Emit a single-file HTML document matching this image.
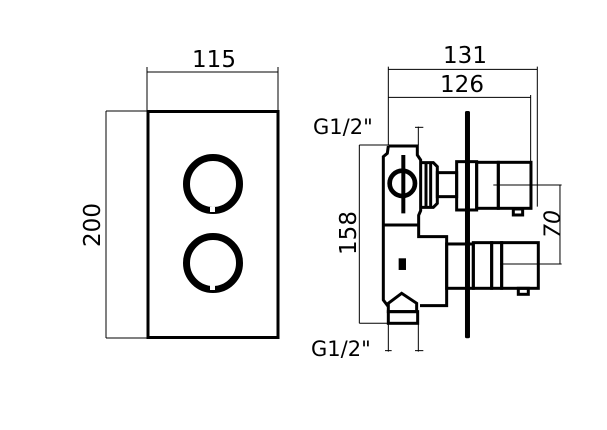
<!DOCTYPE html>
<html><head><meta charset="utf-8"><style>
html,body{margin:0;padding:0;background:#fff;width:607px;height:430px;overflow:hidden}
svg{display:block}
text{font-family:"DejaVu Sans","Liberation Sans",sans-serif;fill:#000}
</style></head><body>
<svg width="607" height="430" viewBox="0 0 607 430" xmlns="http://www.w3.org/2000/svg">
<!-- Left front view -->
<g fill="none" stroke="#000">
  <line x1="147" y1="72" x2="278" y2="72" stroke-width="1"/>
  <line x1="147" y1="67" x2="147" y2="111" stroke-width="1"/>
  <line x1="278" y1="67" x2="278" y2="111" stroke-width="1"/>
  <line x1="106" y1="111" x2="147" y2="111" stroke-width="1"/>
  <line x1="106" y1="338" x2="147" y2="338" stroke-width="1"/>
  <line x1="106" y1="111" x2="106" y2="338" stroke-width="1"/>
  <rect x="148" y="111.5" width="130" height="226" stroke-width="3"/>
  <circle cx="213" cy="184" r="26.5" stroke-width="7"/>
  <circle cx="213" cy="263" r="26.5" stroke-width="7"/>
</g>
<rect x="210" y="207" width="5" height="5" fill="#fff"/>
<rect x="210" y="285" width="5" height="5" fill="#fff"/>
<text x="214" y="67" font-size="23" text-anchor="middle">115</text>
<text transform="translate(100,225) rotate(-90)" font-size="23" text-anchor="middle">200</text>

<!-- Right side view, zoom coords -->
<g transform="translate(300,40) scale(0.3333)" fill="none" stroke="#000">
  <g stroke-width="3">
    <line x1="265" y1="88" x2="712" y2="88"/>
    <line x1="265" y1="172" x2="692" y2="172"/>
    <line x1="265" y1="80" x2="265" y2="315"/>
    <line x1="712" y1="80" x2="712" y2="500"/>
    <line x1="692" y1="165" x2="692" y2="365"/>
    <line x1="178" y1="315" x2="265" y2="315"/>
    <line x1="178" y1="850" x2="265" y2="850"/>
    <line x1="178" y1="315" x2="178" y2="850"/>
    <line x1="355" y1="260" x2="355" y2="315"/>
    <line x1="345" y1="262" x2="370" y2="262"/>
    <line x1="265" y1="850" x2="265" y2="935"/>
    <line x1="355" y1="850" x2="355" y2="935"/>
    <line x1="255" y1="932" x2="275" y2="932"/>
    <line x1="345" y1="932" x2="370" y2="932"/>
    <line x1="780" y1="435" x2="780" y2="672"/>
    <line x1="580" y1="435" x2="785" y2="435"/>
    <line x1="600" y1="672" x2="785" y2="672"/>
  </g>
  <g stroke-width="9" stroke-linejoin="miter">
    <path d="M265,318 H352 V345 L362,360 V512 L356,526 V590 H440 V797 H360"/>
    <path d="M265,318 L262,340 L250,350 V780 L265,800"/>
    <path d="M250,555 H355"/>
    <path d="M265,790 L305,760 L350,790 V815 H265 Z"/>
    <rect x="265" y="815" width="88" height="35"/>
    <path d="M362,368 H400 L412,380 V490 L400,502 H362"/>
    <line x1="378" y1="368" x2="378" y2="502"/>
    <line x1="392" y1="372" x2="392" y2="498"/>
    <rect x="412" y="398" width="58" height="72"/>
    <rect x="470" y="365" width="60" height="145"/>
    <rect x="530" y="367" width="65" height="138"/>
    <rect x="595" y="367" width="98" height="138"/>
    <rect x="640" y="507" width="28" height="18"/>
    <rect x="440" y="612" width="80" height="133"/>
    <rect x="520" y="608" width="55" height="137"/>
    <rect x="575" y="608" width="30" height="137"/>
    <rect x="605" y="608" width="110" height="137"/>
    <rect x="655" y="745" width="30" height="18"/>
    <circle cx="307" cy="430" r="38" stroke-width="14"/>
    <line x1="310" y1="345" x2="310" y2="520" stroke-width="12"/>
  </g>
  <rect x="495" y="213" width="15" height="682" fill="#000" stroke="none" rx="5"/>
  <rect x="296" y="655" width="22" height="35" fill="#000" stroke="none"/>
</g>
<text x="465" y="63" font-size="23" text-anchor="middle">131</text>
<text x="462" y="92" font-size="23" text-anchor="middle">126</text>
<text x="313" y="134" font-size="21">G1/2"</text>
<text x="311" y="356" font-size="21">G1/2"</text>
<text transform="translate(356,233) rotate(-90)" font-size="23" text-anchor="middle">158</text>
<text transform="translate(560,224) rotate(-90)" font-size="22" text-anchor="middle" font-style="italic">70</text>
</svg>
</body></html>
